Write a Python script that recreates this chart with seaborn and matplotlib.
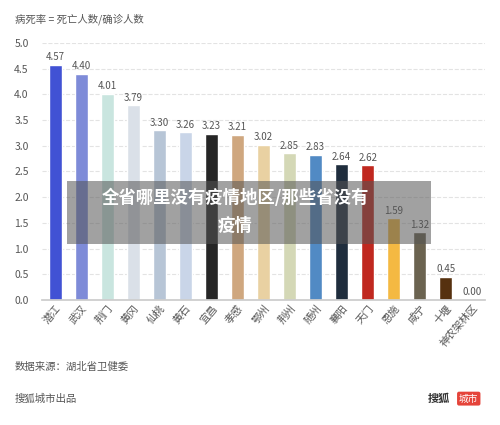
import matplotlib
matplotlib.use("Agg")
import matplotlib.pyplot as plt
import matplotlib.patches as mpatches
import seaborn as sns
import pandas as pd

cities = ["潜江", "武汉", "荆门", "黄冈", "仙桃", "黄石", "宜昌", "孝感", "鄂州",
          "荆州", "随州", "襄阳", "天门", "恩施", "咸宁", "十堰", "神农架林区"]
rates = [4.57, 4.40, 4.01, 3.79, 3.30, 3.26, 3.23, 3.21, 3.02,
         2.85, 2.83, 2.64, 2.62, 1.59, 1.32, 0.45, 0.00]
colors = ["#4152d4", "#7e8bd8", "#c9e5df", "#dae0e8", "#b7c5d6", "#c9d5e8",
          "#262626", "#cfa77f", "#e9d1a2", "#d4d8b6", "#518ac4", "#1f2d3d",
          "#c0281f", "#f4b942", "#6b6350", "#56310f", "#999999"]

sns.set_theme(style="white")
plt.rcParams["font.family"] = ["Noto Sans CJK SC", "DejaVu Sans"]

df = pd.DataFrame({"city": cities, "rate": rates})
fig = plt.figure(figsize=(5, 4.25), dpi=100)
ax = fig.add_axes([0.084, 0.294, 0.886, 0.605])
sns.barplot(data=df, x="city", y="rate", hue="city", palette=colors,
            legend=False, width=0.5, ax=ax, saturation=1)
for i, v in enumerate(rates):
    ax.text(i, v + 0.05, f"{v:.2f}", ha="center", va="bottom", fontsize=7, color="#555555")
ax.set_ylim(0, 5)
ax.set_yticks([i * 0.5 for i in range(11)])
ax.set_yticklabels([f"{i * 0.5:.1f}" for i in range(11)], fontsize=7.5, color="#555555")
ax.yaxis.grid(True, linestyle="--", color="#e3e3e3", linewidth=0.8)
ax.set_axisbelow(True)
ax.set_xlabel("")
ax.set_ylabel("")
ax.tick_params(axis="x", rotation=50, labelsize=7.5, colors="#555555", length=0, pad=2)
for lbl in ax.get_xticklabels():
    lbl.set_ha("right")
    lbl.set_rotation_mode("anchor")
for s in ["top", "right", "left"]:
    ax.spines[s].set_visible(False)
ax.spines["bottom"].set_color("#cccccc")

fig.text(0.03, 0.948, "病死率 = 死亡人数/确诊人数", fontsize=7.5, color="#555555")
fig.text(0.03, 0.13, "数据来源：湖北省卫健委", fontsize=7.5, color="#555555")
fig.text(0.03, 0.055, "搜狐城市出品", fontsize=7.5, color="#555555")
fig.text(0.855, 0.055, "搜狐", fontsize=8, color="#333333", weight="bold")
fig.text(0.918, 0.055, "城市", fontsize=7, color="white",
         bbox=dict(boxstyle="round,pad=0.2", fc="#e5443a", ec="none"))

fig.patches.append(mpatches.Rectangle((0.134, 0.426), 0.728, 0.148, transform=fig.transFigure,
                                      fc="#555555", alpha=0.55, ec="none"))
fig.text(0.47, 0.535, "全省哪里没有疫情地区/那些省没有", ha="center", va="center",
         fontsize=12.5, color="white", weight="bold")
fig.text(0.47, 0.468, "疫情", ha="center", va="center", fontsize=12.5, color="white", weight="bold")

fig.savefig("out.png", dpi=100)
